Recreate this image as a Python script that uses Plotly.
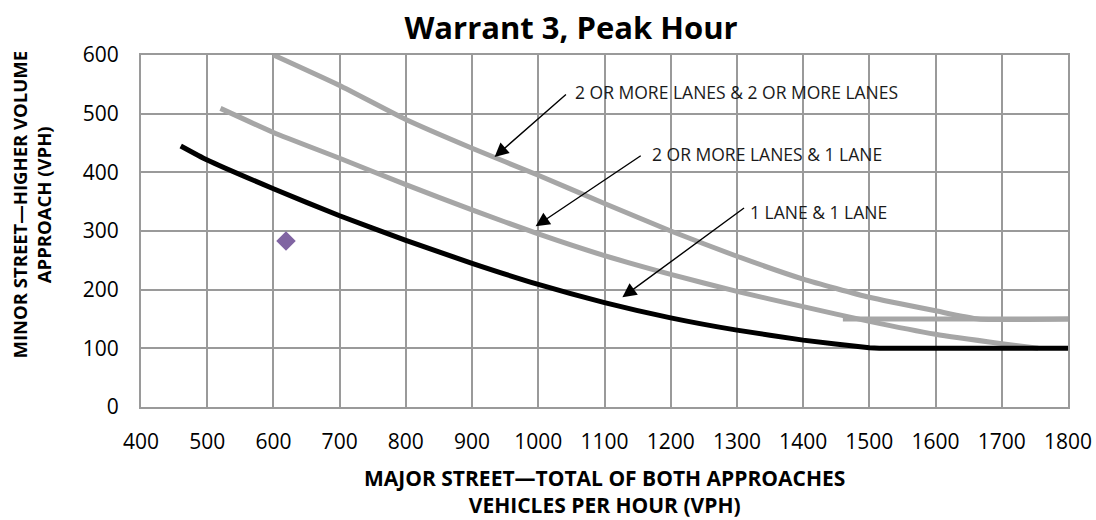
import plotly.graph_objects as go

# Warrant 3 (peak hour) threshold curves, major-street total vs minor-street volume
x_one_one = [460, 500, 600, 700, 800, 900, 1000, 1100, 1200, 1300, 1400, 1500, 1515, 1800]
y_one_one = [445, 421, 372, 326, 284, 245, 209, 178, 152, 131, 114, 101, 100, 100]

x_two_one = [520, 600, 700, 800, 900, 1000, 1100, 1200, 1300, 1400, 1500, 1600, 1700, 1755]
y_two_one = [509, 468, 424, 379, 336, 295, 258, 226, 197, 171, 146, 124, 108, 100]

x_two_two = [600, 700, 800, 900, 1000, 1100, 1200, 1300, 1400, 1500, 1600, 1665, 1800]
y_two_two = [600, 548, 490, 441, 395, 347, 300, 257, 218, 187, 164, 150, 150]

x_floor_150 = [1460, 1800]
y_floor_150 = [150, 150]

# observed count
x_obs = [619]
y_obs = [283]

x_ticks = list(range(400, 1801, 100))
y_ticks = list(range(0, 601, 100))

labels = ["2 OR MORE LANES & 2 OR MORE LANES", "2 OR MORE LANES & 1 LANE", "1 LANE & 1 LANE"]
label_pos = [(1053, 537), (1168, 432), (1316, 333)]
arrow_tail = [(1044, 535), (1157, 430), (1313, 341)]
arrow_tip = [(934, 426), (996, 308), (1127, 187)]

GRAY = "#a6a6a6"
FONT = "Open Sans"

fig = go.Figure()
for xs, ys in [(x_two_two, y_two_two), (x_two_one, y_two_one), (x_floor_150, y_floor_150)]:
    fig.add_trace(go.Scatter(x=xs, y=ys, mode="lines", cliponaxis=False,
                             line=dict(color=GRAY, width=5, shape="spline", smoothing=0.5),
                             hoverinfo="skip"))
fig.add_trace(go.Scatter(x=x_one_one, y=y_one_one, mode="lines", cliponaxis=False,
                         line=dict(color="black", width=5, shape="spline", smoothing=0.5),
                         hoverinfo="skip"))
fig.add_trace(go.Scatter(x=x_obs, y=y_obs, mode="markers",
                         marker=dict(symbol="diamond", size=15, color="#8064a2")))

annotations = []
for text, (lx, ly), (tx, ty), (hx, hy) in zip(labels, label_pos, arrow_tail, arrow_tip):
    annotations.append(dict(x=lx, y=ly, xref="x", yref="y", text=text, showarrow=False,
                            xanchor="left", yanchor="middle",
                            font=dict(family=FONT, size=17.5, color="#1a1a1a")))
    annotations.append(dict(x=hx, y=hy, ax=tx, ay=ty, xref="x", yref="y", axref="x", ayref="y",
                            text="", showarrow=True, arrowhead=2, arrowsize=2,
                            arrowwidth=1.4, arrowcolor="black"))

annotations.append(dict(x=0.5, y=-0.24, xref="paper", yref="paper", yanchor="middle",
                        text="<b>MAJOR STREET—TOTAL OF BOTH APPROACHES<br>VEHICLES PER HOUR (VPH)</b>",
                        showarrow=False, align="center",
                        font=dict(family=FONT, size=21, color="black")))
annotations.append(dict(x=-0.118, y=0.574, xref="paper", yref="paper",
                        xanchor="center", yanchor="middle", textangle=-90,
                        text="<b>MINOR STREET—HIGHER VOLUME<br>APPROACH (VPH)</b>",
                        showarrow=False, align="center",
                        font=dict(family=FONT, size=18.5, color="black")))

fig.update_layout(
    width=1096, height=520,
    margin=dict(l=141, r=28, t=55, b=113),
    paper_bgcolor="white", plot_bgcolor="white",
    showlegend=False,
    title=dict(text="<b>Warrant 3, Peak Hour</b>", x=571 / 1096, xanchor="center",
               y=1 - 28 / 520, yanchor="middle",
               font=dict(family=FONT, size=31, color="black")),
    annotations=annotations,
)
fig.update_xaxes(range=[400, 1800], tickvals=x_ticks, showgrid=True, gridcolor="#9a9a9a", gridwidth=2,
                 showline=True, linecolor="#9a9a9a", linewidth=2, mirror=True, zeroline=False,
                 ticks="", ticklabelstandoff=15, automargin=False,
                 tickfont=dict(family=FONT, size=21, color="black"))
fig.update_yaxes(range=[0, 600], tickvals=y_ticks, showgrid=True, gridcolor="#9a9a9a", gridwidth=2,
                 showline=True, linecolor="#9a9a9a", linewidth=2, mirror=True, zeroline=False,
                 ticks="", ticklabelstandoff=16, automargin=False,
                 tickfont=dict(family=FONT, size=21, color="black"))

fig.write_html("out.html")
